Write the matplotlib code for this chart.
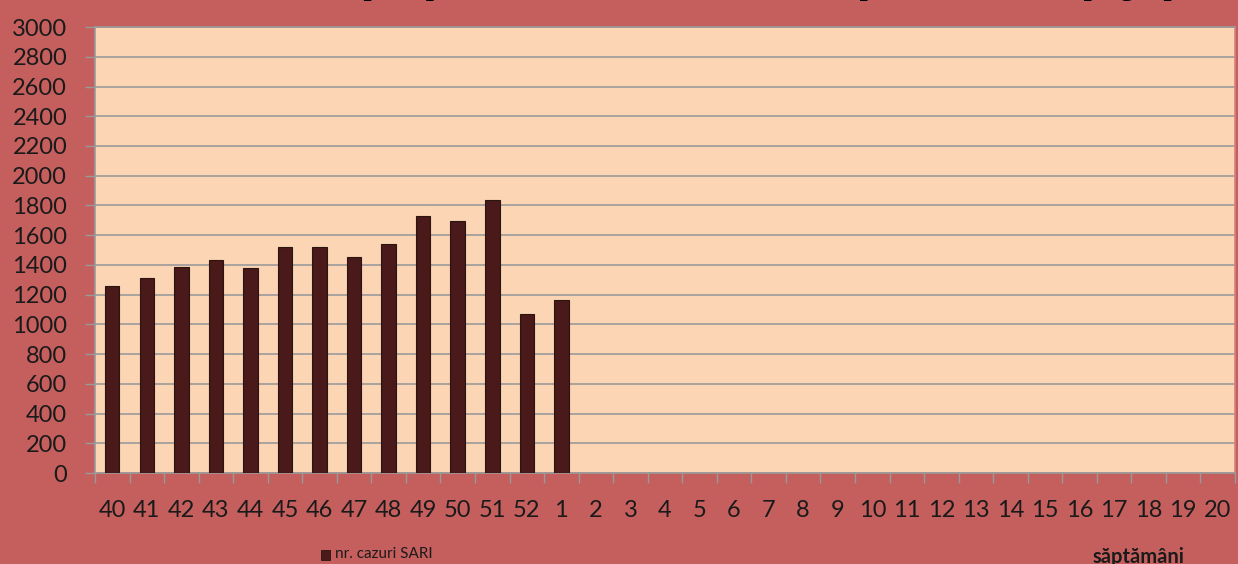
import matplotlib
matplotlib.use('Agg')
import matplotlib.pyplot as plt
import numpy as np

# saptamani 40..52 din 2014 si 1..20 din 2015
weeks = [str(w) for w in range(40, 53)] + [str(w) for w in range(1, 21)]
cases = [1258, 1310, 1389, 1434, 1379, 1521, 1521, 1452, 1539, 1732, 1696, 1836, 1069, 1166]
yticks = list(range(0, 3001, 200))

bg = '#C55F5E'
plot_bg = '#FCD5B4'
bar_color = '#4A191A'
grid = '#9A9A9A'

fig = plt.figure(figsize=(12.38, 5.64), dpi=100, facecolor=bg)
ax = fig.add_axes([0.0767, 0.1613, 0.9209, 0.7907])
ax.set_facecolor(plot_bg)

x = np.arange(len(weeks))
ax.bar(x[:len(cases)], cases, width=0.42, color=bar_color,
       edgecolor='#2a1510', linewidth=0.8, zorder=3)

ax.set_xlim(-0.5, len(weeks) - 0.5)
ax.set_ylim(0, 3000)
ax.set_yticks(yticks)
ax.yaxis.grid(True, color=grid, linewidth=1.2, zorder=1)
ax.set_axisbelow(True)

ax.set_xticks(x)
ax.set_xticklabels(weeks)
ax.set_xticks(np.arange(-0.5, len(weeks)), minor=True)
ax.tick_params(axis='x', which='major', length=0, pad=19.5, labelsize=17,
               labelcolor='#1a1a1a')
ax.tick_params(axis='x', which='minor', length=7, color=grid, width=1)
ax.tick_params(axis='y', length=7, color=grid, width=1, pad=13,
               labelsize=17, labelcolor='#1a1a1a')
for lab in ax.get_xticklabels() + ax.get_yticklabels():
    lab.set_family('Lato')

for s in ax.spines.values():
    s.set_color(grid)
    s.set_linewidth(1.2)
ax.spines['right'].set_color('#d98080')

# titlu taiat la marginea de sus (se vad doar codițele literelor)
fig.text(0.5, 1.0 + 4.5 / 564, 'Numărul de cazuri SARI pe săptămâni, în sezonul 2014-2015, în spitalele santinelă, pe grupe',
         ha='center', va='baseline', fontsize=21, fontweight='bold',
         family='Liberation Serif', color='black')

# legenda
fig.patches.append(plt.Rectangle((321 / 1238, 1 - 560 / 564), 9 / 1238, 10 / 564,
                                 transform=fig.transFigure, facecolor=bar_color,
                                 edgecolor='#2a1510', linewidth=0.6))
fig.text(335 / 1238, 1 - 554 / 564, 'nr. cazuri SARI', ha='left', va='center',
         fontsize=11, family='Lato', color='#1a1a1a')

fig.text(1138 / 1238, 1 - 563 / 564, 'săptămâni', ha='center', va='baseline',
         fontsize=14.5, fontweight='bold', family='Lato', color='#1a1a1a')

fig.savefig('out.png', dpi=100, facecolor=bg)
